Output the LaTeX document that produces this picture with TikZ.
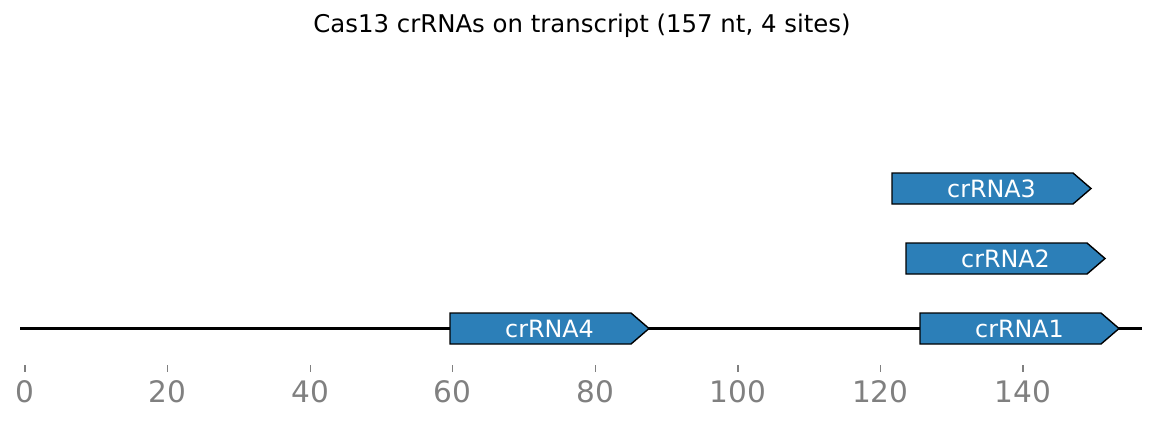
\documentclass[tikz,border=0pt]{standalone}
\usepackage{fontspec}
\setmainfont{DejaVu Sans}
\usetikzlibrary{positioning}

\definecolor{guideblue}{HTML}{2C7FB8}
\definecolor{tickgray}{HTML}{808080}

\tikzset{
  backbone/.style={line width=1.5pt, black},
  guide/.style={fill=guideblue, draw=black, line width=0.7pt, line join=miter},
  guidetext/.style={text=white, font=\fontsize{11.9}{13}\selectfont, inner sep=0pt},
  tickmark/.style={tickgray, line width=0.6pt},
  ticktext/.style={text=tickgray, font=\fontsize{14.8}{16}\selectfont, inner sep=0pt}
}

\begin{document}
\begin{tikzpicture}[x=0.5pt, y=-0.5pt]
	\useasboundingbox (0,0) rectangle (1159,425);

	% title
	\node [font=\fontsize{12.2}{14}\selectfont, inner sep=0pt] (title) at (582,26) {Cas13 crRNAs on transcript (157 nt, 4 sites)};

	% transcript
	\coordinate (tstart) at (20,328);
	\coordinate (tend) at (1142,328);
	\draw [backbone] (tstart) -- (tend);

	% crRNA4
	\draw [guide] (450,313) -- (631,313) -- (649,328.5) -- (631,344) -- (450,344) -- cycle;
	\node [guidetext] (g4) at (549.5,328.5) {crRNA4};

	% crRNA1
	\draw [guide] (920,313) -- (1101,313) -- (1119,328.5) -- (1101,344) -- (920,344) -- cycle;
	\node [guidetext] (g1) at (1019.5,328.5) {crRNA1};

	% crRNA2
	\draw [guide] (906,243) -- (1087,243) -- (1105,258.5) -- (1087,274) -- (906,274) -- cycle;
	\node [guidetext] (g2) at (1005.5,258.5) {crRNA2};

	% crRNA3
	\draw [guide] (892,173) -- (1073,173) -- (1091,188.5) -- (1073,204) -- (892,204) -- cycle;
	\node [guidetext] (g3) at (991.5,188.5) {crRNA3};

	% axis ticks
	\draw [tickmark] (25,365) -- (25,372);
	\draw [tickmark] (167.6,365) -- (167.6,372);
	\draw [tickmark] (310.1,365) -- (310.1,372);
	\draw [tickmark] (452.7,365) -- (452.7,372);
	\draw [tickmark] (595.3,365) -- (595.3,372);
	\draw [tickmark] (737.9,365) -- (737.9,372);
	\draw [tickmark] (880.4,365) -- (880.4,372);
	\draw [tickmark] (1023,365) -- (1023,372);

	\node [ticktext] (t0) at (25,392) {0};
	\node [ticktext] (t20) at (167.6,392) {20};
	\node [ticktext] (t40) at (310.1,392) {40};
	\node [ticktext] (t60) at (452.7,392) {60};
	\node [ticktext] (t80) at (595.3,392) {80};
	\node [ticktext] (t100) at (737.9,392) {100};
	\node [ticktext] (t120) at (880.4,392) {120};
	\node [ticktext] (t140) at (1023,392) {140};
\end{tikzpicture}
\end{document}
